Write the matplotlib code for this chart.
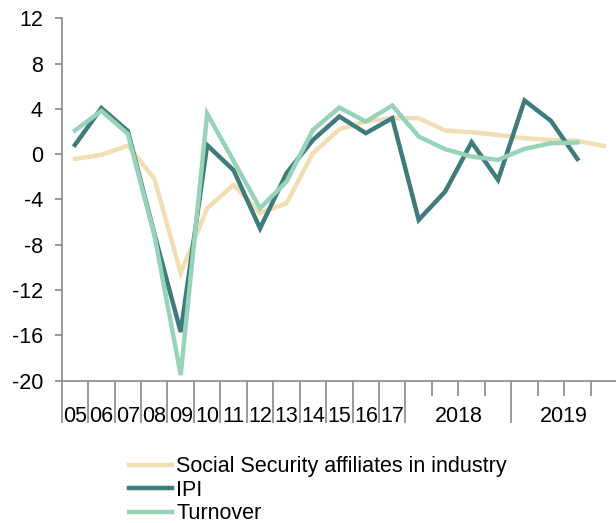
import matplotlib
matplotlib.use("Agg")
import matplotlib.pyplot as plt
import numpy as np

plt.rcParams['font.family'] = ['Liberation Sans', 'DejaVu Sans']
plt.rcParams['axes.unicode_minus'] = False

annual_labels = ["05", "06", "07", "08", "09", "10", "11", "12", "13", "14", "15", "16", "17"]
year_groups = ["2018", "2019"]
quarters_per_year = 4

social = [-0.42, -0.06, 0.76, -2.15, -10.5, -4.78, -2.71, -5.2, -4.33, 0.09, 2.2, 2.88, 3.18,
          3.18, 2.09, 1.94, 1.7, 1.41, 1.26, 1.18, 0.73]
ipi = [0.82, 4.07, 2.05, -7.0, -15.7, 0.8, -1.42, -6.55, -1.68, 1.26, 3.33, 1.86, 3.18,
       -5.8, -3.3, 1.06, -2.27, 4.74, 2.94, -0.42]
turnover = [2.09, 3.83, 1.8, -7.1, -19.5, 3.58, -0.6, -4.78, -2.42, 2.15, 4.12, 2.88, 4.3,
            1.56, 0.44, -0.21, -0.5, 0.47, 0.97, 1.03]

series_names = ["Social Security affiliates in industry", "IPI", "Turnover"]
colors = ["#F1DEB3", "#3F7B7C", "#96D3B7"]

fig = plt.figure(figsize=(6.16, 5.23), dpi=100)
ax = fig.add_axes([0.1002, 0.2721, 0.9015, 0.6929])

n_annual = len(annual_labels)
n_total = n_annual + quarters_per_year * len(year_groups)

for vals, name, c in zip([social, ipi, turnover], series_names, colors):
    x = np.arange(len(vals)) + 0.5
    ax.plot(x, vals, color=c, lw=3.2, label=name, solid_joinstyle='miter')

ax.set_xlim(0, n_total)
ax.set_ylim(-20, 12)
ax.set_yticks(np.arange(-20, 13, 4))

for s in ["top", "right"]:
    ax.spines[s].set_visible(False)
for s in ["left", "bottom"]:
    ax.spines[s].set_color("#888888")
    ax.spines[s].set_linewidth(1.2)

ax.tick_params(axis='y', length=5, width=1.2, color="#888888", pad=8.5, labelsize=15.5)

long_pos = list(range(0, n_annual + 1)) + [n_annual + quarters_per_year * (k + 1) for k in range(len(year_groups))]
short_pos = [p for p in range(n_annual, n_total + 1) if p not in long_pos]
ax.set_xticks(long_pos)
ax.set_xticks(short_pos, minor=True)
ax.tick_params(axis='x', which='major', length=30, width=1.2, color="#888888", labelbottom=False)
ax.tick_params(axis='x', which='minor', length=11, width=1.2, color="#888888", labelbottom=False)

label_pos = [i + 0.5 for i in range(n_annual)] + [n_annual + quarters_per_year * (k + 0.5) for k in range(len(year_groups))]
sec = ax.secondary_xaxis('bottom')
sec.set_xticks(label_pos, annual_labels + year_groups)
sec.tick_params(length=0, pad=18.5, labelsize=15.5)
sec.spines['bottom'].set_visible(False)

fig.legend(loc='upper left', bbox_to_anchor=(0.2095, 0.128), frameon=False, fontsize=15.5,
           handlelength=2.0, handletextpad=0.2, labelspacing=0.12, borderpad=0, borderaxespad=0)

fig.savefig("out.png", dpi=100)
